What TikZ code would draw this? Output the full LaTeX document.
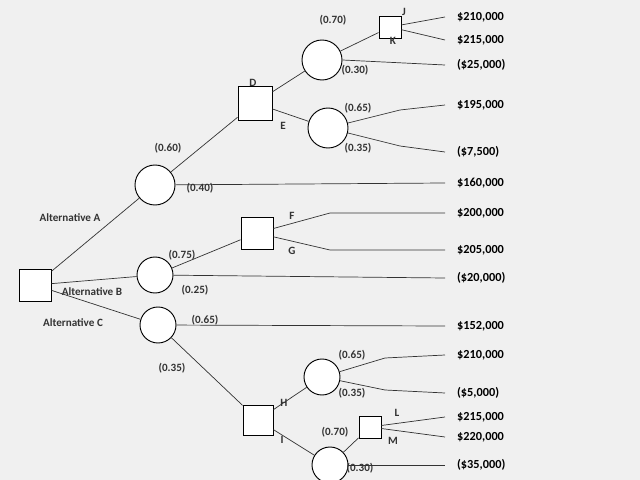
\documentclass[tikz,border=0pt]{standalone}
\usepackage{fontspec}
\setmainfont{Carlito}
\begin{document}
\begin{tikzpicture}[x=0.03cm,y=-0.03cm,
 dec/.style={draw,thick,fill=white,minimum size=#1*0.03cm,inner sep=0},
 chn/.style={draw,thick,circle,fill=white,minimum size=#1*0.03cm,inner sep=0},
 lab/.style={font=\fontsize{9.5}{10}\selectfont\bfseries,text=black!80},
 pay/.style={font=\fontsize{10.5}{11}\selectfont\bfseries,anchor=west},
 br/.style={semithick,black!80}]
\fill[black!6] (0,0) rectangle (640,480);
\useasboundingbox (0,0) rectangle (640,480);
% endpoints
\foreach \n/\y in {e1/17,e2/40,e3/65,e4/105,e5/152,e6/183,e7/213,e8/250,e9/278,e10/326,e11/355,e12/393,e13/417,e14/437,e15/465}
  \coordinate (\n) at (445,\y);
\coordinate (k4) at (400,110);\coordinate (k5) at (400,146);
\coordinate (k7) at (330,213);\coordinate (k8) at (330,250);
\coordinate (k11) at (385,358);\coordinate (k12) at (385,390);
% nodes
\node[dec=32] (R) at (35,285) {};
\node[chn=40] (A) at (155,185) {};
\node[chn=36] (B) at (155,275) {};
\node[chn=36] (C) at (158,325) {};
\node[dec=34] (D) at (255,103) {};
\node[chn=40] (U) at (322,60) {};
\node[dec=22] (JK) at (390,27) {};
\node[chn=40] (E) at (328,128) {};
\node[dec=32] (FG) at (257,233) {};
\node[dec=30] (HI) at (258,420) {};
\node[chn=36] (H) at (322,377) {};
\node[chn=36] (I) at (330,465) {};
\node[dec=22] (LM) at (370,427) {};
% branches
\draw[br] (R) -- (A); \draw[br] (R) -- (B); \draw[br] (R) -- (C);
\draw[br] (A) -- (D); \draw[br] (A) -- (e6);
\draw[br] (D) -- (U); \draw[br] (D) -- (E);
\draw[br] (U) -- (JK); \draw[br] (U.east) -- (e3);
\draw[br] (JK) -- (e1); \draw[br] (JK) -- (e2);
\draw[br] (E) -- (k4) -- (e4); \draw[br] (E) -- (k5) -- (e5);
\draw[br] (B) -- (FG); \draw[br] (B) -- (e9);
\draw[br] (FG) -- (k7) -- (e7); \draw[br] (FG) -- (k8) -- (e8);
\draw[br] (C) -- (e10); \draw[br] (C) -- (HI);
\draw[br] (HI) -- (H); \draw[br] (HI) -- (I);
\draw[br] (H) -- (k11) -- (e11); \draw[br] (H) -- (k12) -- (e12);
\draw[br] (I) -- (LM); \draw[br] (I) -- (e15);
\draw[br] (LM) -- (e13); \draw[br] (LM) -- (e14);
% payoffs
\node[pay] (p1) at (453,17) {\$210,000};
\node[pay] (p2) at (453,40) {\$215,000};
\node[pay] (p3) at (453,65) {(\$25,000)};
\node[pay] (p4) at (453,105) {\$195,000};
\node[pay] (p5) at (453,152) {(\$7,500)};
\node[pay] (p6) at (453,183) {\$160,000};
\node[pay] (p7) at (453,213) {\$200,000};
\node[pay] (p8) at (453,250) {\$205,000};
\node[pay] (p9) at (453,278) {(\$20,000)};
\node[pay] (p10) at (453,326) {\$152,000};
\node[pay] (p11) at (453,355) {\$210,000};
\node[pay] (p12) at (453,393) {(\$5,000)};
\node[pay] (p13) at (453,417) {\$215,000};
\node[pay] (p14) at (453,437) {\$220,000};
\node[pay] (p15) at (453,465) {(\$35,000)};
% labels
\node[lab] (l1) at (333,20) {(0.70)};
\node[lab] (l2) at (404,12) {J};
\node[lab] (l3) at (393,41) {K};
\node[lab] (l4) at (355,70) {(0.30)};
\node[lab] (l5) at (253,83) {D};
\node[lab] (l6) at (283,126) {E};
\node[lab] (l7) at (358,108) {(0.65)};
\node[lab] (l8) at (358,148) {(0.35)};
\node[lab] (l9) at (168,148) {(0.60)};
\node[lab] (l10) at (200,188) {(0.40)};
\node[lab] (l11) at (70,218) {Alternative A};
\node[lab] (l12) at (182,255) {(0.75)};
\node[lab] (l13) at (292,216) {F};
\node[lab] (l14) at (292,251) {G};
\node[lab] (l15) at (92,292) {Alternative B};
\node[lab] (l16) at (195,290) {(0.25)};
\node[lab] (l17) at (73,323) {Alternative C};
\node[lab] (l18) at (205,320) {(0.65)};
\node[lab] (l19) at (172,368) {(0.35)};
\node[lab] (l20) at (284,403) {H};
\node[lab] (l21) at (282,440) {I};
\node[lab] (l22) at (352,355) {(0.65)};
\node[lab] (l23) at (352,393) {(0.35)};
\node[lab] (l24) at (335,432) {(0.70)};
\node[lab] (l25) at (397,413) {L};
\node[lab] (l26) at (393,441) {M};
\node[lab] (l27) at (360,468) {(0.30)};
\end{tikzpicture}
\end{document}
